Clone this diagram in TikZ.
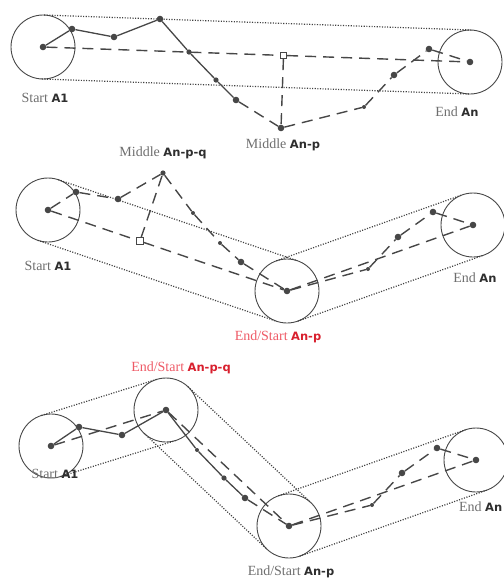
\documentclass[tikz,border=0pt]{standalone}
\usepackage{fontspec}
\setmainfont{Liberation Serif}
\newfontfamily\tagfont{DejaVu Sans}
\usetikzlibrary{calc}

\definecolor{linegray}{HTML}{474747}
\definecolor{labelgray}{HTML}{6E6E6E}
\definecolor{tagdark}{HTML}{2E2E2E}
\definecolor{labelred}{HTML}{EE5A66}
\definecolor{tagred}{HTML}{D8202E}

% point names such as A1, An-p
\newcommand{\pname}[1]{{\tagfont\bfseries\fontsize{11.5}{13}\selectfont #1}}
% the two outer tangents of a pair of areas
\newcommand{\hullpair}[2]{%
  \draw[hull] ($(#1)!32pt!90:(#2)$) -- ($(#2)!32pt!-90:(#1)$);
  \draw[hull] ($(#1)!32pt!-90:(#2)$) -- ($(#2)!32pt!90:(#1)$);}

\tikzset{
  dot/.style={circle, fill=linegray, inner sep=0pt, minimum size=6.6pt},
  middot/.style={dot, minimum size=5.2pt},
  tinydot/.style={dot, minimum size=4pt},
  sqbox/.style={draw=linegray, fill=white, line width=0.8pt, inner sep=0pt, minimum size=6.5pt},
  area/.style={draw=linegray, line width=0.9pt},
  route/.style={linegray, line width=1.3pt},
  guess/.style={linegray, line width=1.4pt, dash pattern=on 11pt off 7pt},
  hull/.style={draw=linegray!90!black, line width=1.2pt, dash pattern=on 1.1pt off 1.5pt},
  lbl/.style={text=labelgray, font=\fontsize{14}{16}\selectfont, inner sep=1pt},
  redlbl/.style={lbl, text=labelred}
}

\begin{document}
\begin{tikzpicture}[x=1pt,y=-1pt]
\useasboundingbox (0,0) rectangle (504,582);

% ---------- top: one area from A1 to An ----------
\node[dot] (s1) at (43,47) {};
\node[dot] (a1) at (72,29) {};
\node[dot] (a2) at (114,37) {};
\node[dot] (a3) at (160,19) {};
\node[middot] (a4) at (189,52) {};
\node[middot] (a5) at (216,80) {};
\node[dot] (a6) at (236,100) {};
\node[dot] (m1) at (281,128) {};
\node[tinydot] (b1) at (364,107) {};
\node[dot] (b2) at (394,75) {};
\node[dot] (b3) at (429,49) {};
\node[dot] (e1) at (470,62) {};
\node[sqbox] (q1) at ($(s1)!(m1)!(e1)$) {};

\draw[area] (s1) circle[radius=32pt];
\draw[area] (e1) circle[radius=32pt];
\hullpair{s1}{e1}

\draw[route] (s1) -- (a1) -- (a2) -- (a3) -- (a4) -- (a5) -- (a6);
\draw[guess] (a6) -- (m1) -- (b1) -- (b2) -- (b3) -- (e1);
\draw[guess] (s1) -- (q1) -- (e1);
\draw[guess] (q1) -- (m1);

\node[lbl] (ls1) at (45,98) {Start \textcolor{tagdark}{\pname{A1}}};
\node[lbl] (le1) at (457,112) {End \textcolor{tagdark}{\pname{An}}};
\node[lbl] (lm1) at (283,145) {Middle \textcolor{tagdark}{\pname{An-p}}};

% ---------- middle: split at An-p ----------
\node[dot] (s2) at (48,210) {};
\node[dot] (c1) at (76,192) {};
\node[dot] (c2) at (118,199) {};
\node[middot] (t2) at (163,173) {};
\node[tinydot] (c3) at (193,213) {};
\node[tinydot] (c4) at (220,243) {};
\node[dot] (c5) at (241,262) {};
\node[dot] (m2) at (287,291) {};
\node[tinydot] (d1) at (368,269) {};
\node[dot] (d2) at (398,237) {};
\node[dot] (d3) at (433,212) {};
\node[dot] (e2) at (473,225) {};
\node[sqbox] (q2) at ($(s2)!(t2)!(m2)$) {};

\draw[area] (s2) circle[radius=32pt];
\draw[area] (m2) circle[radius=32pt];
\draw[area] (e2) circle[radius=32pt];
\hullpair{s2}{m2}
\hullpair{m2}{e2}

\draw[guess] (s2) -- (c1) -- (c2) -- (t2) -- (c3) -- (c4) -- (c5) -- (m2)
  -- (d1) -- (d2) -- (d3) -- (e2);
\draw[guess] (s2) -- (q2) -- (m2) -- (e2);
\draw[guess] (q2) -- (t2);

\node[lbl] (lt2) at (163,153) {Middle \textcolor{tagdark}{\pname{An-p-q}}};
\node[lbl] (ls2) at (48,266) {Start \textcolor{tagdark}{\pname{A1}}};
\node[lbl] (le2) at (475,278) {End \textcolor{tagdark}{\pname{An}}};
\node[redlbl] (lm2) at (278,337) {End/Start \textcolor{tagred}{\pname{An-p}}};

% ---------- bottom: split at An-p-q and An-p ----------
\node[dot] (s3) at (51,446) {};
\node[dot] (f1) at (79,427) {};
\node[dot] (f2) at (122,435) {};
\node[dot] (k3) at (166,410) {};
\node[tinydot] (g1) at (197,450) {};
\node[middot] (g2) at (224,478) {};
\node[dot] (g3) at (245,498) {};
\node[dot] (m3) at (289,526) {};
\node[tinydot] (h1) at (372,505) {};
\node[dot] (h2) at (402,473) {};
\node[dot] (h3) at (437,448) {};
\node[dot] (e3) at (476,460) {};

\draw[area] (s3) circle[radius=32pt];
\draw[area] (k3) circle[radius=32pt];
\draw[area] (m3) circle[radius=32pt];
\draw[area] (e3) circle[radius=32pt];
\hullpair{s3}{k3}
\hullpair{k3}{m3}
\hullpair{m3}{e3}

\draw[route] (s3) -- (f1) -- (f2) -- (k3) -- (g1) -- (g2) -- (g3);
\draw[guess] (g3) -- (m3) -- (h1) -- (h2) -- (h3) -- (e3);
\draw[guess] (s3) -- (k3) -- (m3) -- (e3);

\node[redlbl] (lk3) at (181,368) {End/Start \textcolor{tagred}{\pname{An-p-q}}};
\node[lbl] (ls3) at (55,474) {Start \textcolor{tagdark}{\pname{A1}}};
\node[lbl, anchor=east] (le3) at (503.5,507) {End \textcolor{tagdark}{\pname{An}}};
\node[lbl] (lm3) at (291,572) {End/Start \textcolor{tagdark}{\pname{An-p}}};
\end{tikzpicture}
\end{document}
